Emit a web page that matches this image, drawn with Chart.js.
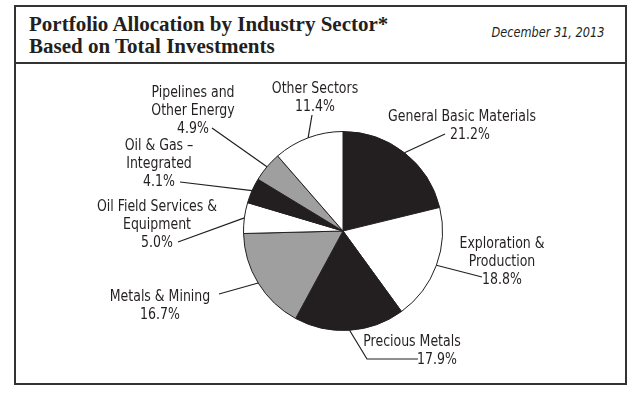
<!DOCTYPE html>
<html lang="en">
<head>
    <meta charset="UTF-8">
    <title>Portfolio Allocation by Industry Sector</title>
    <script src="https://cdn.jsdelivr.net/npm/chart.js"></script>
    <style>
        body {
            margin: 0;
            width: 640px;
            height: 397px;
            background: #fff;
            position: relative;
            overflow: hidden;
            color: #231f20;
        }
        .box {
            position: absolute;
            left: 14px;
            top: 5px;
            width: 609px;
            height: 376px;
            border: 2px solid #333;
        }
        .header {
            height: 55px;
            border-bottom: 2px solid #333;
            position: relative;
        }
        .title {
            position: absolute;
            left: 13px;
            top: 6px;
            font-family: "Liberation Serif", "DejaVu Serif", serif;
            font-weight: bold;
            font-size: 21px;
            line-height: 22px;
        }
        .date {
            position: absolute;
            right: 21px;
            top: 17px;
            font-family: "DejaVu Sans Condensed", sans-serif;
            font-style: italic;
            font-size: 14px;
            transform: scaleX(0.9);
            transform-origin: right center;
        }
        #chart {
            position: absolute;
            left: 0;
            top: 0;
        }
    </style>
</head>
<body>
    <div class="box">
        <div class="header">
            <div class="title">Portfolio Allocation by Industry Sector*<br>Based on Total Investments</div>
            <div class="date">December 31, 2013</div>
        </div>
    </div>
    <canvas id="chart" width="640" height="397"></canvas>

    <script>
        const sectors = [
            ['General Basic Materials'],
            ['Exploration &', 'Production'],
            ['Precious Metals'],
            ['Metals & Mining'],
            ['Oil Field Services &', 'Equipment'],
            ['Oil & Gas \u2013', 'Integrated'],
            ['Pipelines and', 'Other Energy'],
            ['Other Sectors']
        ];
        const percents = [21.2, 18.8, 17.9, 16.7, 5.0, 4.1, 4.9, 11.4];
        const fills = ['#231f20', '#ffffff', '#231f20', '#9f9f9f', '#ffffff', '#231f20', '#9f9f9f', '#ffffff'];

        // where each label's text sits and where its leader line ends (page pixels)
        const labelSpots = [
            { x: 462, y: 117, last: 470, line: [[445, 134]] },
            { x: 502, y: 244, line: [[482, 277]] },
            { x: 412, y: 342, last: 437, line: [[367, 359], [418, 359]] },
            { x: 160, y: 297, line: [[219, 294]] },
            { x: 157, y: 207, line: [[178, 242]] },
            { x: 159, y: 146, line: [[180, 182]] },
            { x: 193, y: 93, line: [[212, 128]] },
            { x: 315, y: 89, line: [[312, 115]] }
        ];

        const sectorLabels = {
            id: 'sectorLabels',
            afterDraw(chart) {
                const ctx = chart.ctx;
                const arcs = chart.getDatasetMeta(0).data;
                const squeeze = 0.87;
                ctx.save();
                ctx.strokeStyle = '#231f20';
                ctx.lineWidth = 1.2;
                ctx.fillStyle = '#231f20';
                ctx.font = '16px "DejaVu Sans Condensed", sans-serif';
                ctx.textAlign = 'center';
                ctx.textBaseline = 'middle';
                arcs.forEach((arc, i) => {
                    const p = arc.getProps(['x', 'y', 'startAngle', 'endAngle', 'outerRadius']);
                    const mid = (p.startAngle + p.endAngle) / 2;
                    const ex = p.x + Math.cos(mid) * p.outerRadius;
                    const ey = p.y + Math.sin(mid) * p.outerRadius;
                    const spot = labelSpots[i];
                    ctx.beginPath();
                    ctx.moveTo(ex, ey);
                    spot.line.forEach(pt => ctx.lineTo(pt[0], pt[1]));
                    ctx.stroke();
                    const lines = sectors[i].concat([percents[i].toFixed(1) + '%']);
                    lines.forEach((t, k) => {
                        let tx = spot.x;
                        if (k === lines.length - 1 && spot.last) tx = spot.last;
                        ctx.save();
                        ctx.translate(tx, spot.y + k * 18);
                        ctx.scale(squeeze, 1);
                        ctx.fillText(t, 0, 0);
                        ctx.restore();
                    });
                });
                ctx.restore();
            }
        };

        new Chart(document.getElementById('chart'), {
            type: 'pie',
            data: {
                labels: sectors.map(s => s.join(' ')),
                datasets: [{
                    data: percents,
                    backgroundColor: fills,
                    borderColor: '#231f20',
                    borderWidth: 1
                }]
            },
            options: {
                responsive: false,
                animation: false,
                layout: { padding: { top: 131, bottom: 66, left: 223, right: 177 } },
                plugins: {
                    legend: { display: false },
                    tooltip: { enabled: false }
                }
            },
            plugins: [sectorLabels]
        });
    </script>
</body>
</html>
